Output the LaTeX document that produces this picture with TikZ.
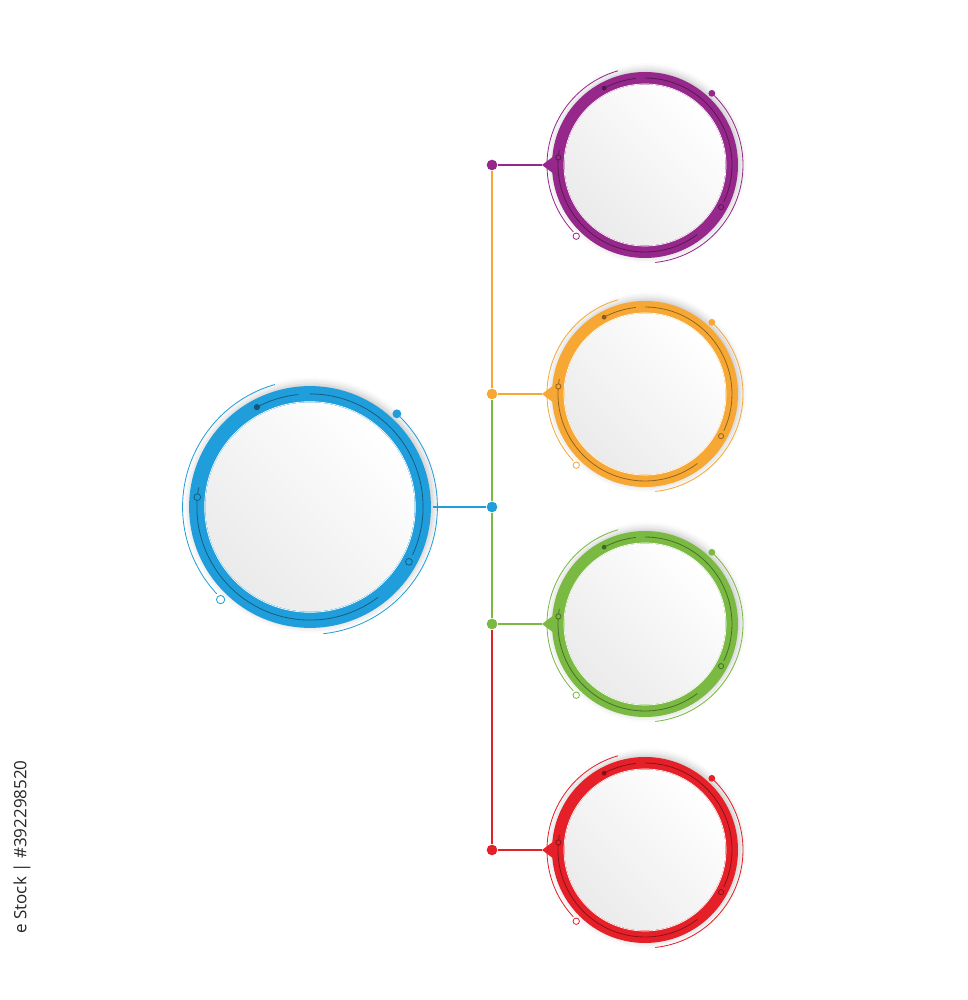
\documentclass[tikz,border=0pt]{standalone}
\usepackage{fontspec}
\usepackage{tikz}
\usetikzlibrary{calc, shadows.blur}
\newfontfamily\idfont{Open Sans}

\definecolor{ringpurple}{RGB}{150,40,140}
\definecolor{ringorange}{RGB}{247,168,52}
\definecolor{ringgreen}{RGB}{122,186,66}
\definecolor{ringred}{RGB}{230,32,40}
\definecolor{ringblue}{RGB}{32,158,220}

\tikzset{
  dotnode/.style={circle, fill=#1, inner sep=0pt, minimum size=0.32cm},
  link/.style={draw=#1, line width=0.9pt},
  trim/.style={draw=#1, line width=0.7pt},
  pics/ringunit/.style={code={
    \fill[#1, blur shadow={shadow xshift=1.5pt, shadow yshift=1.5pt,
      shadow blur radius=6pt, shadow opacity=25}] (0,0) circle (93);
    \shade[top color=white, bottom color=black!8, shading angle=-45] (0,0) circle (80.5);
    \draw[white, line width=0.6pt] (0,0) circle (81);
    % dark tracks inside the band
    \draw[trim=#1!60!black] (118:87) arc[start angle=118, end angle=96, radius=87];
    \draw[trim=#1!60!black] (90:87) arc[start angle=90, end angle=-25, radius=87];
    \draw[trim=#1!60!black] (170:87) arc[start angle=170, end angle=307, radius=87];
    \fill[#1!55!black] (118:87) circle (2.4);
    \draw[trim=#1!60!black, fill=#1] (-29:87) circle (2.6);
    \draw[trim=#1!60!black, fill=#1] (175:87) circle (2.6);
    % thin outer tracks
    \draw[trim=#1] (106:98) arc[start angle=106, end angle=223, radius=98];
    \draw[trim=#1, fill=white] (226:99) circle (3.2);
    \draw[trim=#1] (47:98) arc[start angle=47, end angle=-84, radius=98];
    \fill[#1] (47:98) circle (3.4);
  }},
}

\begin{document}
\begin{tikzpicture}[x=0.03cm, y=0.03cm]
  \useasboundingbox (0,0) rectangle (967,1000);

  % main ring
  \pic[scale=1.3] at (310,493) {ringunit=ringblue};
  \node[dotnode=ringblue] (db) at (492,493) {};
  \coordinate (pb) at (433,493);
  \draw[link=ringblue] (pb) -- (db);

  % the four small rings
  \foreach \col/\yy [count=\i] in {ringpurple/835, ringorange/606, ringgreen/376, ringred/150} {
    \pic at (645,\yy) {ringunit=\col};
    \fill[\col] (554,\yy+9) -- (542,\yy) -- (554,\yy-9) -- cycle;
    \node[dotnode=\col] (d\i) at (492,\yy) {};
    \coordinate (p\i) at (542,\yy);
    \draw[link=\col] (d\i) -- (p\i);
  }

  \draw[link=ringorange] (d1) -- (d2);
  \draw[link=ringgreen] (d2) -- (db);
  \draw[link=ringgreen] (db) -- (d3);
  \draw[link=ringred] (d3) -- (d4);

  \node[rotate=90, text=black!85, font=\idfont\fontsize{14.5}{15}\selectfont] (stockid) at (22,153) {e Stock | \#392298520};
\end{tikzpicture}
\end{document}
